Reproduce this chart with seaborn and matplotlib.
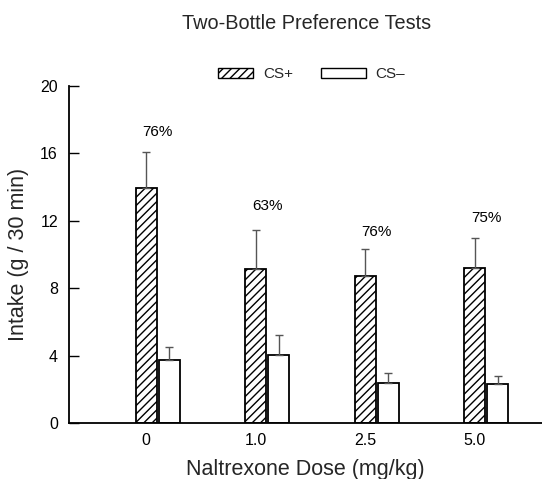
import numpy as np
import pandas as pd
import matplotlib
matplotlib.use("Agg")
import matplotlib.pyplot as plt
import seaborn as sns
from matplotlib.patches import Patch, Rectangle
from matplotlib.legend_handler import HandlerPatch

# Mean intake and SEM per naltrexone dose
doses = ["0", "1.0", "2.5", "5.0"]
cs_plus = [13.95, 9.15, 8.75, 9.2]
cs_plus_sem = [2.15, 2.3, 1.6, 1.75]
cs_minus = [3.75, 4.05, 2.35, 2.3]
cs_minus_sem = [0.75, 1.15, 0.6, 0.5]
pct_labels = ["76%", "63%", "76%", "75%"]
pct_label_y = [17.25, 12.85, 11.35, 12.15]
y_ticks = [0, 4, 8, 12, 16, 20]

sns.set_theme(style="ticks")
plt.rcParams["font.family"] = ["Liberation Sans", "DejaVu Sans"]
plt.rcParams["hatch.linewidth"] = 1.0

df = pd.DataFrame({
    "dose": doses * 2,
    "intake": cs_plus + cs_minus,
    "cs": ["CS+"] * len(doses) + ["CS\u2013"] * len(doses),
})

fig = plt.figure(figsize=(5.42, 4.79), dpi=100)
ax = fig.add_axes([0.1273, 0.1169, 0.8727, 0.7036])

width = 0.42
sns.barplot(data=df, x="dose", y="intake", hue="cs", order=doses,
            hue_order=["CS+", "CS\u2013"], palette=["white", "white"],
            width=width, gap=0.08, errorbar=None, legend=False,
            edgecolor="black", linewidth=1.3, ax=ax)

# Hatch the CS+ bars and collect bar centres for error bars
bars = ax.patches
plus_bars = bars[:len(doses)]
minus_bars = bars[len(doses):]
for b in plus_bars:
    b.set_hatch("////")

def centres(bs):
    return [b.get_x() + b.get_width() / 2 for b in bs]

for bs, vals, sems in [(plus_bars, cs_plus, cs_plus_sem),
                       (minus_bars, cs_minus, cs_minus_sem)]:
    xs = centres(bs)
    ax.errorbar(xs, vals, yerr=[np.zeros(len(sems)), sems], fmt="none",
                ecolor="#555555", elinewidth=1.0, capsize=3.0, capthick=1.0,
                zorder=1)

# Percent preference labels above each dose group
for i, (lab, yy) in enumerate(zip(pct_labels, pct_label_y)):
    gx = (centres(plus_bars)[i] + centres(minus_bars)[i]) / 2
    ax.text(gx, yy, lab, ha="center", va="center", fontsize=11, color="black")

ax.set_ylim(0, 20)
ax.set_yticks(y_ticks)
ax.set_yticklabels([str(t) for t in y_ticks])
ax.set_xlim(-0.81, 3.51)
ax.set_xticks(centres(plus_bars))
ax.set_xticklabels(doses)
ax.tick_params(axis="y", direction="in", length=7, width=1.0, pad=8,
               labelsize=11.5, colors="black")
ax.tick_params(axis="x", length=0, pad=7, labelsize=11.5, colors="black")
ax.set_xlabel("Naltrexone Dose (mg/kg)", fontsize=15.5, labelpad=8)
ax.set_ylabel("Intake (g / 30 min)", fontsize=15.5, labelpad=8)
for s in ["top", "right"]:
    ax.spines[s].set_visible(False)
for s in ["left", "bottom"]:
    ax.spines[s].set_linewidth(1.3)
    ax.spines[s].set_color("black")


class ShortPatchHandler(HandlerPatch):
    """Legend key drawn narrower than the full handle box, right-aligned."""
    def __init__(self, frac, **kw):
        self.frac = frac
        super().__init__(**kw)

    def create_artists(self, legend, orig_handle, xdescent, ydescent,
                       width, height, fontsize, trans):
        w = width * self.frac
        p = Rectangle((-xdescent + width - w, -ydescent), w, height,
                      facecolor=orig_handle.get_facecolor(),
                      edgecolor=orig_handle.get_edgecolor(),
                      hatch=orig_handle.get_hatch(),
                      linewidth=orig_handle.get_linewidth(),
                      transform=trans)
        return [p]


h_plus = Patch(facecolor="white", edgecolor="black", hatch="////", linewidth=1.0, label="CS+")
h_minus = Patch(facecolor="white", edgecolor="black", linewidth=1.0, label="CS\u2013")
fig.legend(handles=[h_plus, h_minus], loc="center", bbox_to_anchor=(0.566, 0.845), ncol=2,
           frameon=False, fontsize=11, handlelength=2.95, handleheight=0.6,
           columnspacing=1.8, handletextpad=0.65,
           handler_map={h_plus: ShortPatchHandler(0.78),
                        h_minus: ShortPatchHandler(1.0)})

fig.suptitle("Two-Bottle Preference Tests", x=0.566, y=0.97, fontsize=14.3)

fig.savefig("out.png", dpi=100)
